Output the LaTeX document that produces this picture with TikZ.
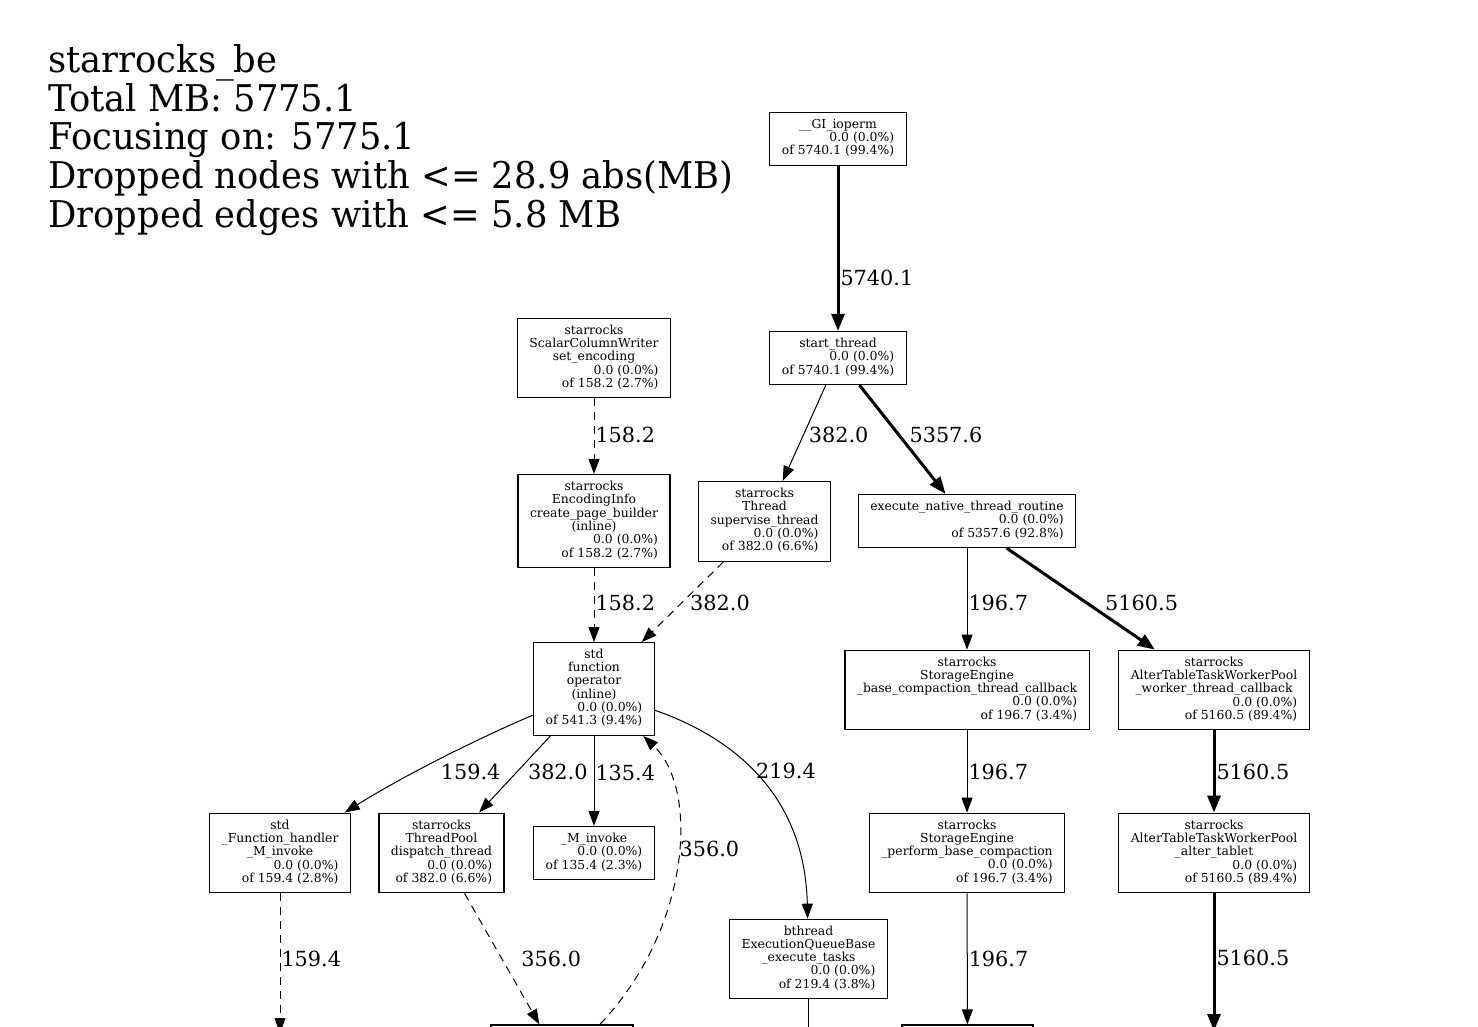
\documentclass[tikz,border=0pt]{standalone}
\usepackage{fontspec}
\setmainfont{DejaVu Serif}
\newfontfamily\titlefont[FakeStretch=0.96]{DejaVu Serif}
\usetikzlibrary{arrows.meta}

\newcommand{\ctr}[1]{\multicolumn{1}{@{}c@{}}{#1}}
\newcommand{\fnbox}[1]{\begin{tabular}{@{}r@{}}#1\end{tabular}}

\tikzset{
  fn/.style={shape=rectangle,draw=black,line width=0.65pt,inner xsep=6pt,inner ysep=3.25pt,font=\fontsize{6.2}{6.5}\selectfont},
  lbl/.style={anchor=west,inner sep=0.5pt,font=\fontsize{10.4}{12}\selectfont},
  lightedge/.style={draw=black,line width=0.5pt,-{Triangle[length=7.5pt,width=5.5pt]}},
  heavyedge/.style={draw=black,line width=1.5pt,-{Triangle[length=8.5pt,width=6.5pt]}},
  dashedge/.style={lightedge,dash pattern=on 4pt off 3pt}
}

\begin{document}
\begin{tikzpicture}[x=0.5pt,y=-0.5pt]
\useasboundingbox (0,0) rectangle (1478,1027);
\clip (0,0) rectangle (1478,1027);

\node[anchor=north west,align=left,inner sep=0pt,font=\titlefont\fontsize{18.4}{19.35}\selectfont] (title) at (48,44) {starrocks\_be\\Total MB: 5775.1\\Focusing on: 5775.1\\Dropped nodes with <= 28.9 abs(MB)\\Dropped edges with <= 5.8 MB};

\node[fn] (0) at (838,139) {\fnbox{\ctr{\_\_GI\_ioperm}\\0.0 (0.0\%)\\of 5740.1 (99.4\%)}};
\node[fn] (1) at (838,358) {\fnbox{\ctr{start\_thread}\\0.0 (0.0\%)\\of 5740.1 (99.4\%)}};
\node[fn] (2) at (594,358) {\fnbox{\ctr{starrocks}\\\ctr{ScalarColumnWriter}\\\ctr{set\_encoding}\\0.0 (0.0\%)\\of 158.2 (2.7\%)}};
\node[fn] (3) at (594,521) {\fnbox{\ctr{starrocks}\\\ctr{EncodingInfo}\\\ctr{create\_page\_builder}\\\ctr{(inline)}\\0.0 (0.0\%)\\of 158.2 (2.7\%)}};
\node[fn] (4) at (764.5,521.5) {\fnbox{\ctr{starrocks}\\\ctr{Thread}\\\ctr{supervise\_thread}\\0.0 (0.0\%)\\of 382.0 (6.6\%)}};
\node[fn] (5) at (967,521) {\fnbox{\ctr{execute\_native\_thread\_routine}\\0.0 (0.0\%)\\of 5357.6 (92.8\%)}};
\node[fn] (6) at (594,689) {\fnbox{\ctr{std}\\\ctr{function}\\\ctr{operator}\\\ctr{(inline)}\\0.0 (0.0\%)\\of 541.3 (9.4\%)}};
\node[fn] (7) at (967,690) {\fnbox{\ctr{starrocks}\\\ctr{StorageEngine}\\\ctr{\_base\_compaction\_thread\_callback}\\0.0 (0.0\%)\\of 196.7 (3.4\%)}};
\node[fn] (8) at (1214,690) {\fnbox{\ctr{starrocks}\\\ctr{AlterTableTaskWorkerPool}\\\ctr{\_worker\_thread\_callback}\\0.0 (0.0\%)\\of 5160.5 (89.4\%)}};
\node[fn] (9) at (280,853) {\fnbox{\ctr{std}\\\ctr{\_Function\_handler}\\\ctr{\_M\_invoke}\\0.0 (0.0\%)\\of 159.4 (2.8\%)}};
\node[fn] (10) at (441.5,853) {\fnbox{\ctr{starrocks}\\\ctr{ThreadPool}\\\ctr{dispatch\_thread}\\0.0 (0.0\%)\\of 382.0 (6.6\%)}};
\node[fn] (11) at (594,853) {\fnbox{\ctr{\_M\_invoke}\\0.0 (0.0\%)\\of 135.4 (2.3\%)}};
\node[fn] (12) at (967,853) {\fnbox{\ctr{starrocks}\\\ctr{StorageEngine}\\\ctr{\_perform\_base\_compaction}\\0.0 (0.0\%)\\of 196.7 (3.4\%)}};
\node[fn] (13) at (1214,853) {\fnbox{\ctr{starrocks}\\\ctr{AlterTableTaskWorkerPool}\\\ctr{\_alter\_tablet}\\0.0 (0.0\%)\\of 5160.5 (89.4\%)}};
\node[fn] (14) at (808.5,959) {\fnbox{\ctr{bthread}\\\ctr{ExecutionQueueBase}\\\ctr{\_execute\_tasks}\\0.0 (0.0\%)\\of 219.4 (3.8\%)}};
\node[fn,minimum width=71pt,minimum height=39pt] (15) at (562,1064) {};
\node[fn,minimum width=65.5pt,minimum height=39pt] (16) at (967.5,1064) {};
\coordinate (c9) at (280,1033);
\coordinate (c13) at (1214,1031);
\coordinate (c14) at (808.5,1045);

\path [heavyedge] (0) edge node[lbl,pos=0.68] {5740.1} (1);
\path [lightedge] (1) edge node[lbl,pos=0.52,xshift=2pt] {382.0} (4);
\path [heavyedge] (1) edge node[lbl,pos=0.46,xshift=4pt] {5357.6} (5);
\path [dashedge] (2) edge node[lbl,pos=0.49] {158.2} (3);
\path [dashedge] (3) edge node[lbl,pos=0.47] {158.2} (6);
\path [dashedge] (4) edge node[lbl,pos=0.51,xshift=3.5pt] {382.0} (6);
\path [lightedge] (5) edge node[lbl,pos=0.54] {196.7} (7);
\path [heavyedge] (5) edge node[lbl,pos=0.54,xshift=8pt] {5160.5} (8);
\draw [lightedge] (6) .. controls (470,742) and (400,778) .. (9) node[lbl,pos=0.55,xshift=6.5pt,yshift=-3pt] {159.4};
\path [lightedge] (6) edge node[lbl,pos=0.475,xshift=5pt] {382.0} (10);
\path [lightedge] (6) edge node[lbl,pos=0.41] {135.4} (11);
\draw [lightedge] (6) .. controls (740,740) and (805,800) .. (14) node[lbl,pos=0.45,xshift=0.5pt] {219.4};
\path [lightedge] (7) edge node[lbl,pos=0.51] {196.7} (12);
\path [heavyedge] (8) edge node[lbl,pos=0.51] {5160.5} (13);
\path [dashedge] (9) edge node[lbl,pos=0.47] {159.4} (c9);
\path [dashedge] (10) edge node[lbl,pos=0.5,xshift=9pt] {356.0} (15);
\draw [dashedge] (15) .. controls (690,930) and (700,790) .. (6) node[lbl,pos=0.55] {356.0};
\path [lightedge] (14) edge (c14);
\path [lightedge] (12) edge node[lbl,pos=0.5] {196.7} (16);
\path [heavyedge] (13) edge node[lbl,pos=0.47] {5160.5} (c13);
\end{tikzpicture}
\end{document}
